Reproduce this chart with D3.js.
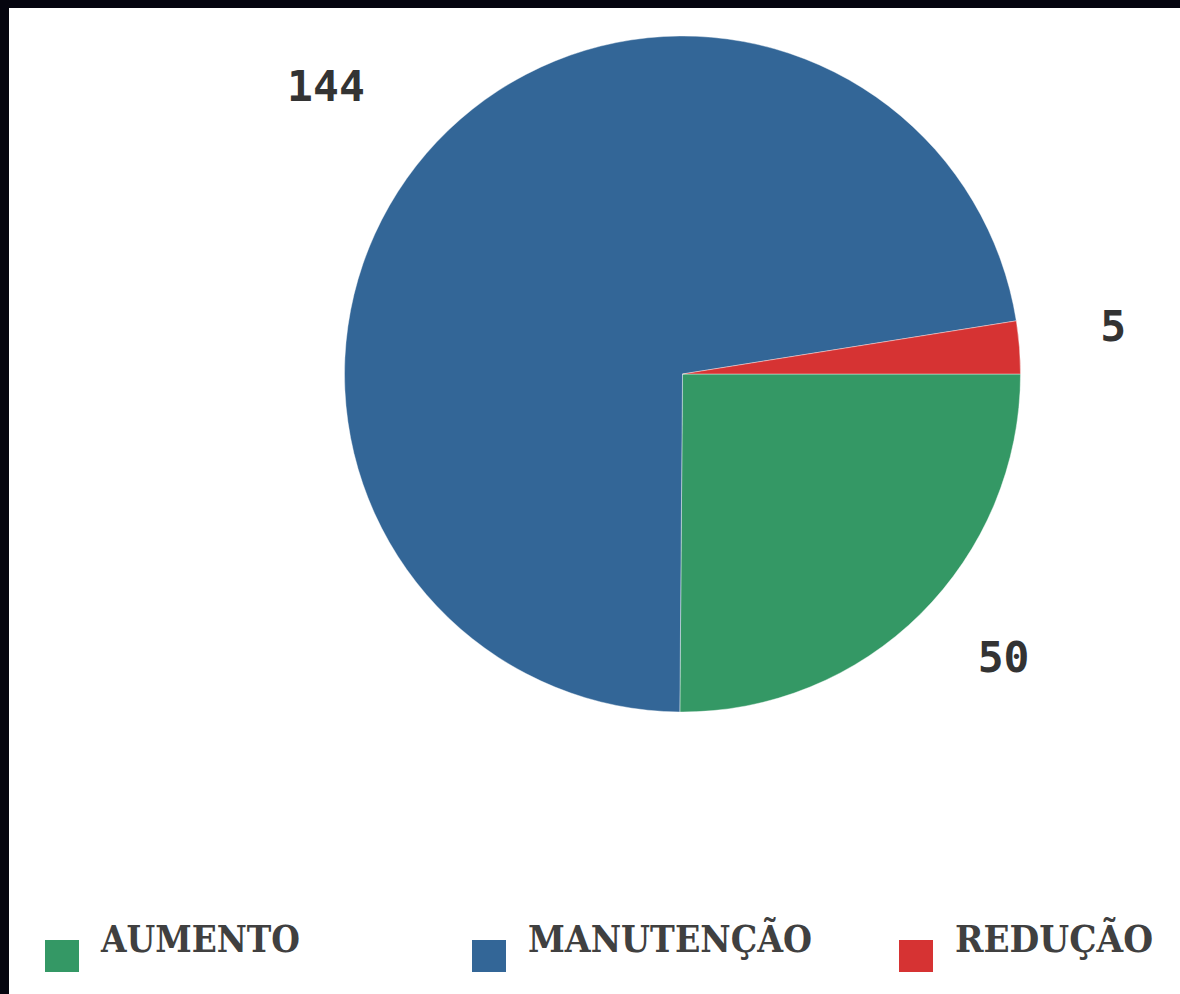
<!DOCTYPE html>
<html>
<head>
<meta charset="utf-8">
<script src="https://cdn.jsdelivr.net/npm/d3@7"></script>
<style>
  html, body { margin: 0; padding: 0; background: #05050f; }
  svg { display: block; }
</style>
</head>
<body>
<svg id="chart" width="1180" height="994"></svg>
<script>
// Categories and counts
const categories = ["AUMENTO", "MANUTENÇÃO", "REDUÇÃO"];
const values = [50, 144, 5];
const colors = ["#349865", "#336697", "#d63333"];

const svg = d3.select("#chart");
const W = 1180, H = 994;

// white panel
svg.append("rect")
  .attr("x", 9).attr("y", 8)
  .attr("width", W - 9).attr("height", H - 8)
  .attr("fill", "#ffffff");

const cx = 682.5, cy = 374, r = 338;
const labelR = r * 1.24;

const color = d3.scaleOrdinal().domain(categories).range(colors);

const pie = d3.pie()
  .value(d => d.value)
  .sort(null)
  .startAngle(Math.PI / 2)
  .endAngle(Math.PI / 2 + 2 * Math.PI);

const data = categories.map((c, i) => ({ name: c, value: values[i] }));
const arcs = pie(data);

const arc = d3.arc().innerRadius(0).outerRadius(r);

const g = svg.append("g").attr("transform", `translate(${cx},${cy})`);

g.selectAll("path.slice")
  .data(arcs)
  .join("path")
  .attr("class", "slice")
  .attr("d", arc)
  .attr("fill", d => color(d.data.name))
  .attr("stroke", "#ffffff")
  .attr("stroke-width", 0.4);

// value labels outside the pie
g.selectAll("text.value")
  .data(arcs)
  .join("text")
  .attr("class", "value")
  .each(function (d) {
    const a = (d.startAngle + d.endAngle) / 2;
    const x = labelR * Math.sin(a);
    const y = -labelR * Math.cos(a);
    d3.select(this)
      .attr("x", x)
      .attr("y", y)
      .attr("text-anchor", Math.sin(a) < 0 ? "end" : "start");
  })
  .attr("font-family", "'DejaVu Sans Mono', monospace")
  .attr("font-weight", "bold")
  .attr("font-size", 43)
  .attr("fill", "#333333")
  .text(d => d.data.value);

// legend
const legendX = d3.scaleBand()
  .domain(categories)
  .range([45, 45 + 427 * categories.length])
  .paddingInner(0).paddingOuter(0);

const textWidths = { "AUMENTO": 199, "MANUTENÇÃO": 284, "REDUÇÃO": 198 };

const legend = svg.append("g")
  .selectAll("g")
  .data(categories)
  .join("g")
  .attr("transform", d => `translate(${legendX(d)},0)`);

legend.append("rect")
  .attr("x", 0).attr("y", 940)
  .attr("width", 34).attr("height", 32)
  .attr("fill", d => color(d));

legend.append("text")
  .attr("x", 56).attr("y", 952)
  .attr("font-family", "'DejaVu Serif', serif")
  .attr("font-weight", "bold")
  .attr("font-size", 38)
  .attr("fill", "#404040")
  .attr("textLength", d => textWidths[d])
  .attr("lengthAdjust", "spacingAndGlyphs")
  .text(d => d);
</script>
</body>
</html>
